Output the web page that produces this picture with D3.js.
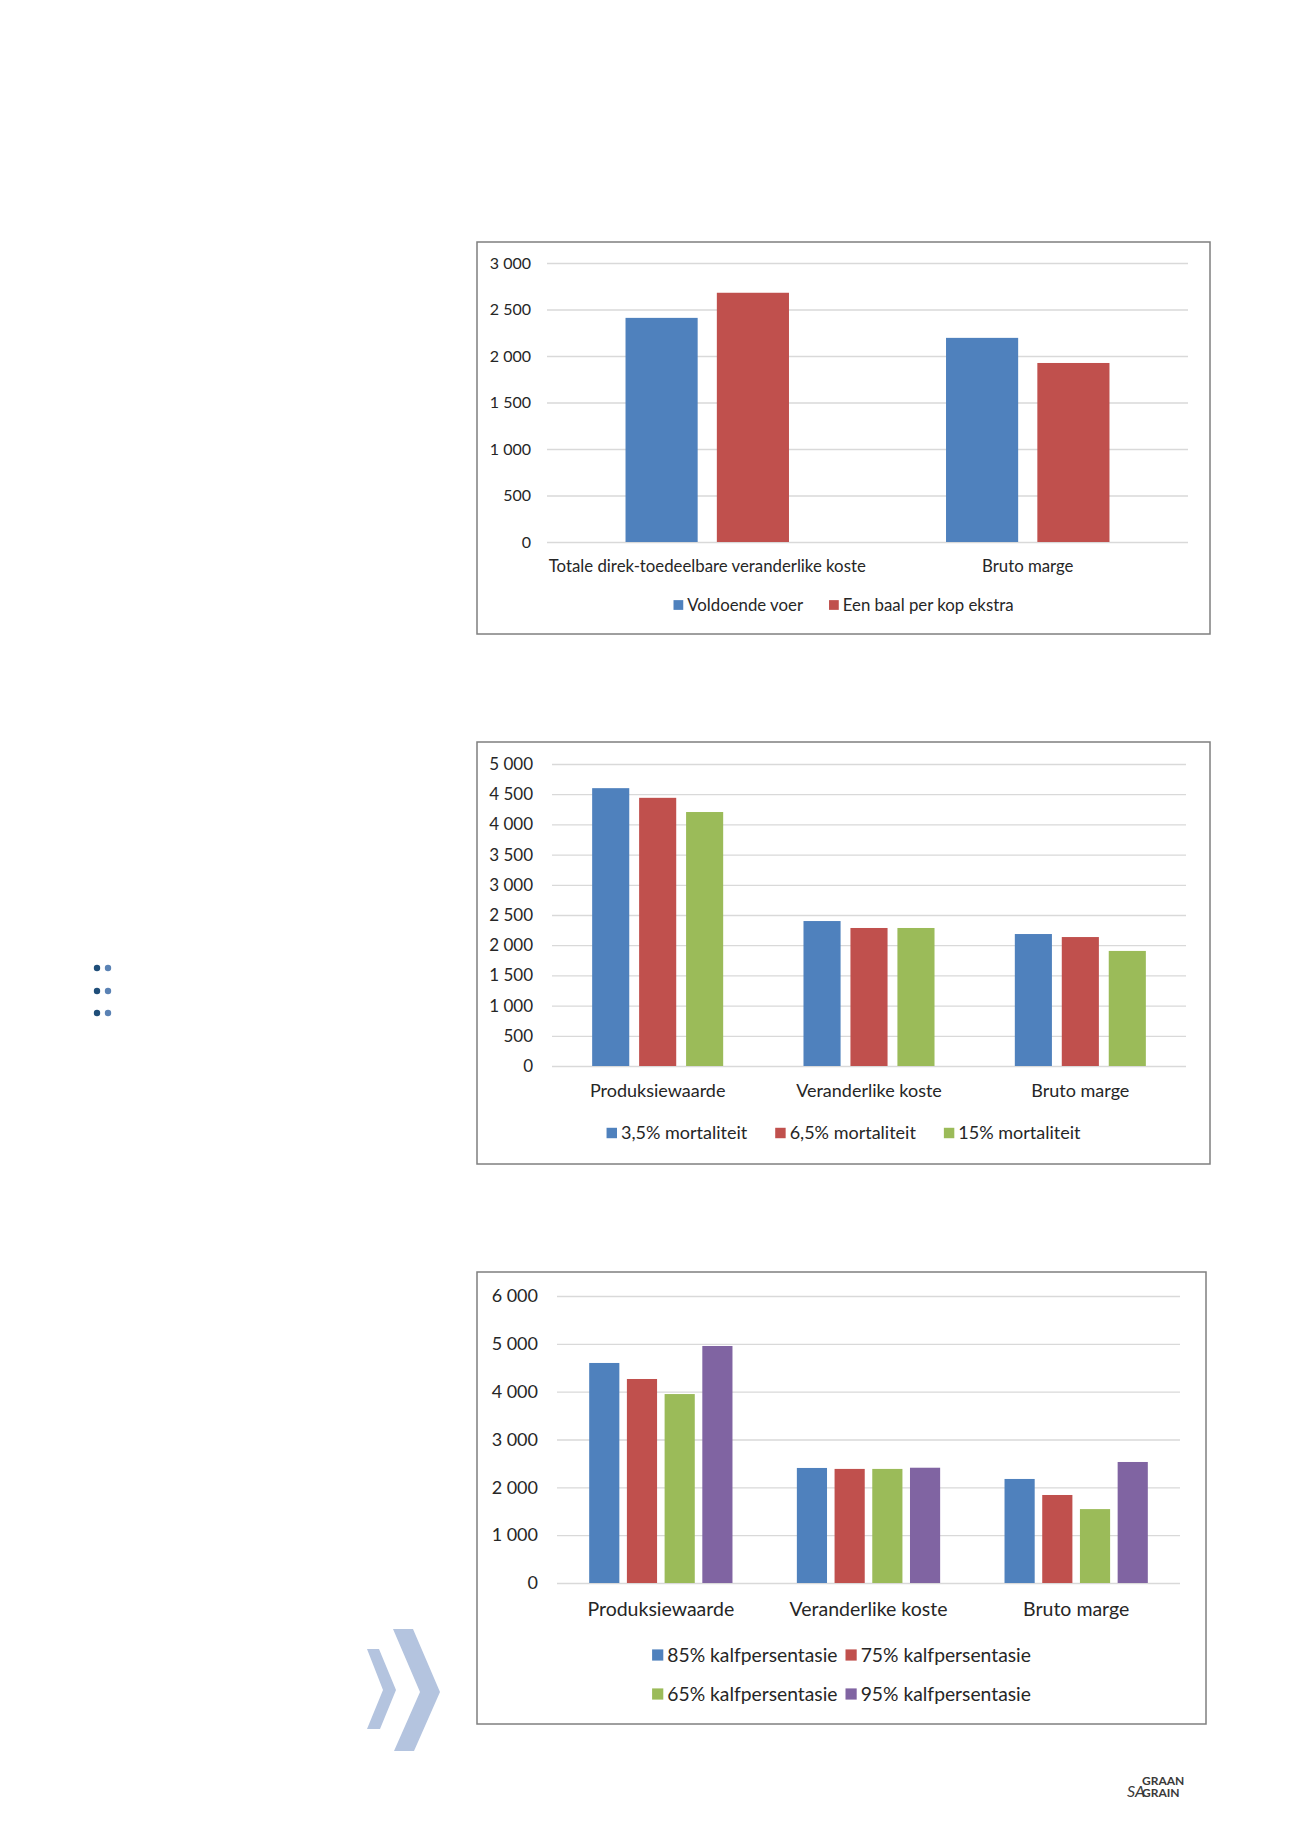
<!DOCTYPE html>
<html>
<head>
<meta charset="utf-8">
<script src="https://cdn.jsdelivr.net/npm/d3@7"></script>
<style>
  body { margin: 0; background: #fff; }
  svg text { font-family: Lato, "Open Sans", sans-serif; fill: #262626; }
</style>
</head>
<body>
<svg id="page" width="1301" height="1840"></svg>
<script>
// chart 1 - voer
const voerCats = ["Totale direk-toedeelbare veranderlike koste", "Bruto marge"];
const voerSeries = ["Voldoende voer", "Een baal per kop ekstra"];
const voldoende = [2410, 2195];
const baalEkstra = [2680, 1925];
const voerTicks = [0, 500, 1000, 1500, 2000, 2500, 3000];

// chart 2 - mortaliteit
const mortCats = ["Produksiewaarde", "Veranderlike koste", "Bruto marge"];
const mortSeries = ["3,5% mortaliteit", "6,5% mortaliteit", "15% mortaliteit"];
const mort35 = [4600, 2400, 2185];
const mort65 = [4440, 2285, 2135];
const mort15 = [4205, 2285, 1905];
const mortTicks = [0, 500, 1000, 1500, 2000, 2500, 3000, 3500, 4000, 4500, 5000];

// chart 3 - kalfpersentasie
const kalfCats = ["Produksiewaarde", "Veranderlike koste", "Bruto marge"];
const kalfSeries = ["85% kalfpersentasie", "75% kalfpersentasie", "65% kalfpersentasie", "95% kalfpersentasie"];
const kalf85 = [4600, 2405, 2175];
const kalf75 = [4265, 2385, 1840];
const kalf65 = [3950, 2385, 1545];
const kalf95 = [4955, 2410, 2530];
const kalfTicks = [0, 1000, 2000, 3000, 4000, 5000, 6000];

const colors = ["#4f81bd", "#c0504d", "#9bbb59", "#8064a2"];

const fmt = d3.formatLocale({ decimal: ",", thousands: " ", grouping: [3], currency: ["R", ""] }).format(",d");

const svg = d3.select("#page");

function drawChart(cfg) {
    const g = svg.append("g");

    // frame
    g.append("rect")
        .attr("x", cfg.box[0]).attr("y", cfg.box[1])
        .attr("width", cfg.box[2] - cfg.box[0]).attr("height", cfg.box[3] - cfg.box[1])
        .attr("fill", "#fff").attr("stroke", "#7f7f7f").attr("stroke-width", 1.5);

    const y = d3.scaleLinear().domain([0, d3.max(cfg.ticks)]).range([cfg.plot.bottom, cfg.plot.top]);
    const x0 = d3.scaleBand().domain(cfg.cats).range([cfg.plot.left, cfg.plot.right]);
    const x1 = d3.scaleBand().domain(cfg.series)
        .range([0, x0.bandwidth() * cfg.groupFrac])
        .paddingInner(cfg.innerPad);

    // gridlines + y labels
    const yAxis = g.append("g")
        .attr("transform", `translate(${cfg.plot.left},0)`)
        .call(d3.axisLeft(y).tickValues(cfg.ticks).tickFormat(fmt)
            .tickSize(-(cfg.plot.right - cfg.plot.left)).tickPadding(cfg.tickPad));
    yAxis.select(".domain").remove();
    yAxis.selectAll("line").attr("stroke", "#d9d9d9").attr("stroke-width", 1.3);
    yAxis.selectAll("text").attr("font-size", cfg.tickSize).attr("fill", "#262626");

    // bars
    const groupW = x0.bandwidth() * cfg.groupFrac;
    cfg.values.forEach((vals, si) => {
        g.selectAll(null)
            .data(vals)
            .enter()
            .append("rect")
            .attr("x", (d, i) => x0(cfg.cats[i]) + (x0.bandwidth() - groupW) / 2 + x1(cfg.series[si]))
            .attr("y", d => y(d))
            .attr("width", x1.bandwidth())
            .attr("height", d => y(0) - y(d))
            .attr("fill", colors[si]);
    });

    // category labels
    g.selectAll(null)
        .data(cfg.cats)
        .enter()
        .append("text")
        .attr("x", d => x0(d) + x0.bandwidth() / 2)
        .attr("y", cfg.catY)
        .attr("text-anchor", "middle")
        .attr("font-size", cfg.catSize)
        .text(d => d);

    // legend, centred on the frame
    const rows = cfg.legendRows;
    const leg = g.append("g");
    const sq = cfg.legendSize * 0.58;
    const items = [];
    cfg.series.forEach((s, si) => {
        const it = leg.append("g");
        it.append("rect").attr("width", sq).attr("height", sq)
            .attr("y", -sq / 2).attr("fill", colors[si]);
        const t = it.append("text").attr("x", sq + 4).attr("dy", "0.35em")
            .attr("font-size", cfg.legendSize).text(s);
        items.push({ g: it, w: sq + 4 + t.node().getComputedTextLength() });
    });
    const perRow = Math.ceil(items.length / rows.length);
    const colW = [];
    items.forEach((it, i) => {
        const c = i % perRow;
        colW[c] = Math.max(colW[c] || 0, it.w);
    });
    const totalW = d3.sum(colW) + cfg.legendGap * (colW.length - 1);
    const startX = (cfg.box[0] + cfg.box[2]) / 2 - totalW / 2;
    items.forEach((it, i) => {
        const c = i % perRow, r = Math.floor(i / perRow);
        const xx = startX + d3.sum(colW.slice(0, c)) + cfg.legendGap * c;
        it.g.attr("transform", `translate(${xx},${rows[r]})`);
    });
}

drawChart({
    box: [477, 242, 1210, 634],
    plot: { left: 547, right: 1188, top: 263, bottom: 542 },
    cats: voerCats, series: voerSeries,
    values: [voldoende, baalEkstra],
    ticks: voerTicks,
    groupFrac: 0.51, innerPad: 0.21,
    tickSize: 16, tickPad: 16,
    catY: 572, catSize: 16.8,
    legendRows: [605], legendSize: 16.8, legendGap: 26
});

drawChart({
    box: [477, 742, 1210, 1164],
    plot: { left: 552, right: 1186, top: 764, bottom: 1066 },
    cats: mortCats, series: mortSeries,
    values: [mort35, mort65, mort15],
    ticks: mortTicks,
    groupFrac: 0.62, innerPad: 0.21,
    tickSize: 17, tickPad: 19,
    catY: 1097, catSize: 18,
    legendRows: [1133], legendSize: 18, legendGap: 28
});

drawChart({
    box: [477, 1272, 1206, 1724],
    plot: { left: 557, right: 1180, top: 1296, bottom: 1583 },
    cats: kalfCats, series: kalfSeries,
    values: [kalf85, kalf75, kalf65, kalf95],
    ticks: kalfTicks,
    groupFrac: 0.69, innerPad: 0.2,
    tickSize: 18, tickPad: 19,
    catY: 1616, catSize: 19.5,
    legendRows: [1655, 1694], legendSize: 19.3, legendGap: 8
});

// page decorations
const dots = [968, 991, 1013];
dots.forEach(dy => {
    svg.append("circle").attr("cx", 97).attr("cy", dy).attr("r", 3.2).attr("fill", "#1f4e79");
    svg.append("circle").attr("cx", 108).attr("cy", dy).attr("r", 3.2).attr("fill", "#5a82b4");
});

const chevSmall = [[367, 1649], [379, 1649], [396, 1690], [380, 1729], [367, 1729], [383, 1690]];
const chevBig = [[393, 1629], [413, 1629], [440, 1692], [414, 1751], [394, 1751], [420, 1692]];
[chevSmall, chevBig].forEach(p => {
    svg.append("polygon").attr("points", p.map(q => q.join(",")).join(" ")).attr("fill", "#b4c4df");
});

const logo = svg.append("g").attr("font-weight", "bold");
logo.append("text").attr("x", 1142).attr("y", 1785).attr("font-size", 12).style("fill", "#3a3a3a").text("GRAAN");
logo.append("text").attr("x", 1142).attr("y", 1797).attr("font-size", 12).style("fill", "#3a3a3a").text("GRAIN");
logo.append("text").attr("x", 1127).attr("y", 1797).attr("font-size", 16).attr("font-style", "italic").attr("font-weight", "normal").style("fill", "#3a3a3a").text("SA");
</script>
</body>
</html>
